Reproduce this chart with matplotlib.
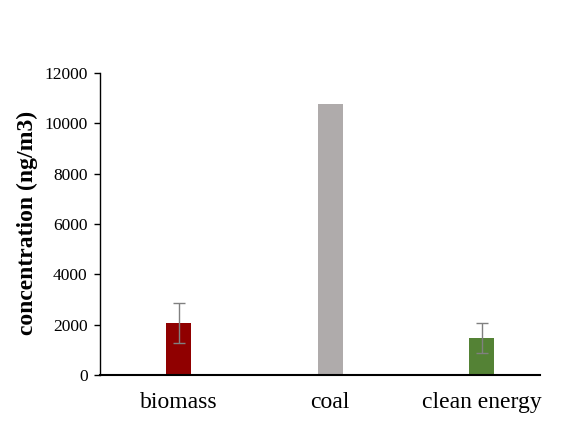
import numpy as np
import matplotlib
matplotlib.use("Agg")
import matplotlib.pyplot as plt

# Data
categories = ["biomass", "coal", "clean energy"]
concentration = [2070, 10780, 1470]
errors = [795, 0, 615]
bar_colors = ["#900000", "#AFABAB", "#548235"]

plt.rcParams["font.family"] = ["Liberation Serif", "DejaVu Serif"]

fig = plt.figure(figsize=(5.65, 4.28), dpi=100)
ax = fig.add_axes([0.177, 0.124, 0.779, 0.705])

x = np.arange(len(categories))
for i in range(len(categories)):
    yerr = errors[i] if errors[i] > 0 else None
    ax.bar(x[i], concentration[i], width=0.165, color=bar_colors[i],
           yerr=yerr, ecolor="#808080", capsize=4,
           error_kw={"elinewidth": 1, "capthick": 1})

ax.set_xlim(-0.519, 2.386)
ax.set_ylim(0, 12000)
ax.set_yticks(np.arange(0, 12001, 2000))
ax.set_xticks(x)
ax.set_xticklabels(categories, fontsize=17)
ax.tick_params(axis="y", labelsize=12.5, length=4, width=1, pad=5)
ax.tick_params(axis="x", length=0, pad=12)

ax.set_ylabel("concentration (ng/m3)", fontsize=17, fontweight="bold")
ax.yaxis.set_label_coords(-0.14, 0.505)

ax.spines["top"].set_visible(False)
ax.spines["right"].set_visible(False)
ax.spines["left"].set_linewidth(1)
ax.spines["bottom"].set_linewidth(1.5)

fig.savefig("out.png", dpi=100)
